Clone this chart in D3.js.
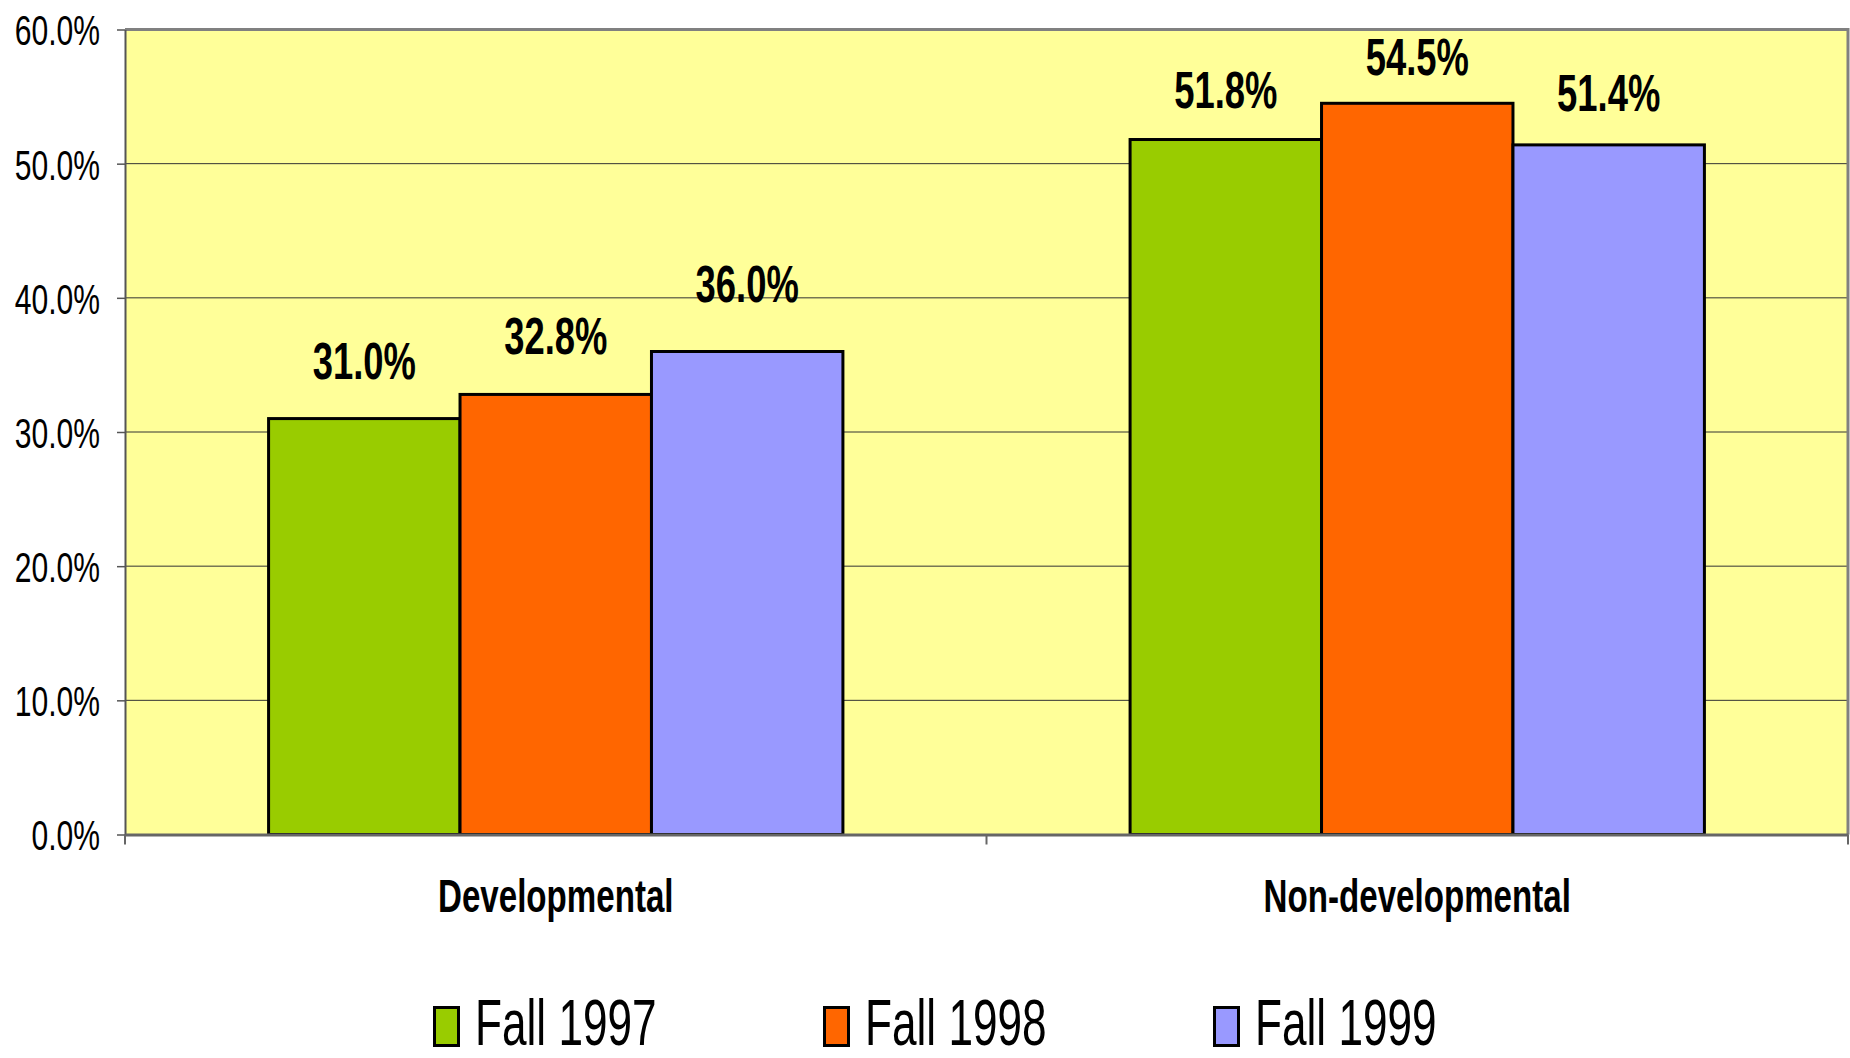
<!DOCTYPE html>
<html>
<head>
<meta charset="utf-8">
<script src="https://cdn.jsdelivr.net/npm/d3@7"></script>
<style>
  body { margin: 0; background: #fff; }
  svg { display: block; font-family: "Liberation Sans", Arial, sans-serif; }
</style>
</head>
<body>
<div class="container"></div>
<script>
const w = 1850;
const h = 1058;

const categories = ['Developmental', 'Non-developmental'];
const seriesNames = ['Fall 1997', 'Fall 1998', 'Fall 1999'];
const fall1997 = [0.310, 0.518];
const fall1998 = [0.328, 0.545];
const fall1999 = [0.360, 0.514];
const yTicks = [0, 0.1, 0.2, 0.3, 0.4, 0.5, 0.6];
const colors = ['#99CC00', '#FF6600', '#9999FF'];

const plot = { left: 125, right: 1848, top: 29.5, bottom: 834.5 };
const squeeze = 0.7;
// distance from bar top to label baseline, per series / category (as placed in the original)
const labelGap = [[40, 32], [40, 28], [50, 34]];

const svg = d3.select('.container').append('svg')
  .attr('width', w)
  .attr('height', h);

const x = d3.scaleBand().domain(categories).range([plot.left, plot.right]);
// gap width 150% -> three bars take 3/4.5 of the band
const barW = x.bandwidth() / 4.5;
const xs = d3.scaleBand().domain(seriesNames).range([0, barW * 3]);
const y = d3.scaleLinear().domain([0, 0.6]).range([plot.bottom, plot.top]);

const series = seriesNames.map((name, i) => ({
  name,
  idx: i,
  color: colors[i],
  values: [fall1997, fall1998, fall1999][i],
}));

// plot background
svg.append('rect')
  .attr('x', plot.left)
  .attr('y', plot.top)
  .attr('width', plot.right - plot.left)
  .attr('height', plot.bottom - plot.top)
  .attr('fill', '#FFFF99');

// gridlines
svg.append('g')
  .selectAll('line')
  .data(yTicks.slice(1, -1))
  .enter().append('line')
  .attr('x1', plot.left)
  .attr('x2', plot.right)
  .attr('y1', (d) => y(d))
  .attr('y2', (d) => y(d))
  .attr('stroke', '#333')
  .attr('stroke-width', 1);

// frame top / right
svg.append('path')
  .attr('d', `M${plot.left},${plot.top}H${plot.right}V${plot.bottom}`)
  .attr('fill', 'none')
  .attr('stroke', '#808080')
  .attr('stroke-width', 3);

// y axis
const yAxis = svg.append('g')
  .attr('transform', `translate(${plot.left},0)`)
  .call(d3.axisLeft(y).tickValues(yTicks).tickFormat(d3.format('.1%')).tickSize(8).tickSizeOuter(0));
yAxis.select('.domain').attr('stroke', '#555').attr('stroke-width', 2);
yAxis.selectAll('.tick line').attr('stroke', '#555').attr('stroke-width', 1.5);
yAxis.selectAll('.tick text')
  .attr('x', -25 / squeeze)
  .attr('dy', '0.36em')
  .attr('transform', `scale(${squeeze},1)`)
  .attr('font-family', '"Liberation Sans", Arial, sans-serif')
  .attr('font-size', 43)
  .attr('fill', '#000');

// bars
const groups = svg.append('g')
  .selectAll('g')
  .data(series)
  .enter().append('g');

groups.selectAll('rect')
  .data((s) => s.values.map((v, i) => ({ v, i, cat: categories[i], s })))
  .enter().append('rect')
  .attr('x', (d) => x(d.cat) + barW * 0.75 + xs(d.s.name))
  .attr('y', (d) => y(d.v))
  .attr('width', xs.bandwidth())
  .attr('height', (d) => y(0) - y(d.v))
  .attr('fill', (d) => d.s.color)
  .attr('stroke', '#000')
  .attr('stroke-width', 3);

// value labels
groups.selectAll('text')
  .data((s) => s.values.map((v, i) => ({ v, i, cat: categories[i], s })))
  .enter().append('text')
  .attr('transform', (d) => {
    const cx = x(d.cat) + barW * 0.75 + xs(d.s.name) + xs.bandwidth() / 2;
    const by = y(d.v) - labelGap[d.s.idx][d.i];
    return `translate(${cx},${by}) scale(${squeeze},1)`;
  })
  .attr('text-anchor', 'middle')
  .attr('font-size', 52)
  .attr('font-weight', 'bold')
  .text((d) => d3.format('.1%')(d.v));

// x axis
const xAxis = svg.append('g')
  .attr('transform', `translate(0,${plot.bottom})`)
  .call(d3.axisBottom(x).tickSize(0).tickSizeOuter(0));
xAxis.select('.domain').attr('stroke', '#666').attr('stroke-width', 3);
xAxis.selectAll('.tick text')
  .attr('y', 0)
  .attr('dy', 0)
  .attr('transform', `translate(0,77) scale(${squeeze + 0.02},1)`)
  .attr('font-family', '"Liberation Sans", Arial, sans-serif')
  .attr('font-size', 46)
  .attr('font-weight', 'bold')
  .attr('fill', '#000');

// category boundary ticks
svg.append('g')
  .selectAll('line')
  .data(categories.concat(['end']))
  .enter().append('line')
  .attr('x1', (d) => (d === 'end' ? plot.right : x(d)))
  .attr('x2', (d) => (d === 'end' ? plot.right : x(d)))
  .attr('y1', plot.bottom)
  .attr('y2', plot.bottom + 10)
  .attr('stroke', '#666')
  .attr('stroke-width', 2);

// legend
const legend = svg.append('g')
  .selectAll('g')
  .data(series)
  .enter().append('g')
  .attr('transform', (d, i) => `translate(${433 + i * 390},1006)`);

legend.append('rect')
  .attr('x', 1.5)
  .attr('y', 1.5)
  .attr('width', 24)
  .attr('height', 38)
  .attr('fill', (d) => d.color)
  .attr('stroke', '#000')
  .attr('stroke-width', 3);

legend.append('text')
  .attr('transform', `translate(42,39) scale(0.69,1)`)
  .attr('font-size', 64)
  .text((d) => d.name);
</script>
</body>
</html>
